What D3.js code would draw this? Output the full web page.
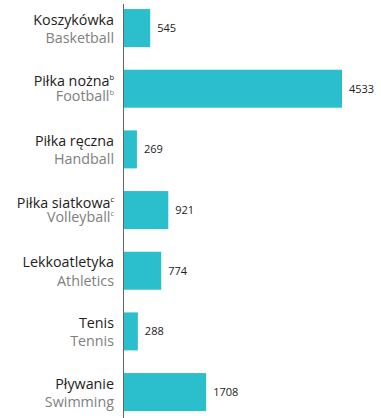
<!DOCTYPE html>
<html>
<head>
<meta charset="utf-8">
<script src="https://cdn.jsdelivr.net/npm/d3@7"></script>
<style>
  html, body { margin: 0; padding: 0; background: #fff; }
  svg { display: block; }
  text { font-family: "Open Sans", sans-serif; }
</style>
</head>
<body>
<svg id="chart" width="381" height="418"></svg>
<script>
// Sports, Polish name, English name, footnote mark and count
const namesPl = ["Koszykówka", "Piłka nożna", "Piłka ręczna", "Piłka siatkowa", "Lekkoatletyka", "Tenis", "Pływanie"];
const namesEn = ["Basketball", "Football", "Handball", "Volleyball", "Athletics", "Tennis", "Swimming"];
const notes   = ["", "b", "", "c", "", "", ""];
const values  = [545, 4533, 269, 921, 774, 288, 1708];

const rows = namesPl.map((pl, i) => ({ pl, en: namesEn[i], note: notes[i], value: values[i] }));

const svg = d3.select("#chart");
const axisX = 123.5;

const x = d3.scaleLinear()
  .domain([0, 4533])
  .range([axisX + 0.5, 342]);

const y = d3.scaleBand()
  .domain(namesPl)
  .range([-2.3, 422.4])
  .paddingInner(0.374)
  .paddingOuter(0.187);

const barColor = "#2bbfce";

// bars
svg.append("g")
  .selectAll("rect")
  .data(rows)
  .join("rect")
  .attr("x", x(0))
  .attr("y", d => y(d.pl))
  .attr("width", d => x(d.value) - x(0))
  .attr("height", y.bandwidth())
  .attr("fill", barColor);

// value labels
svg.append("g")
  .selectAll("text")
  .data(rows)
  .join("text")
  .attr("x", d => x(d.value) + 7)
  .attr("y", d => y(d.pl) + y.bandwidth() / 2 + 4)
  .attr("font-size", 11)
  .attr("fill", "#222")
  .text(d => d.value);

// category labels (Polish above, English below)
const labels = svg.append("g")
  .selectAll("g")
  .data(rows)
  .join("g")
  .attr("transform", d => `translate(114,${y(d.pl) + y.bandwidth() / 2})`);

const pl = labels.append("text")
  .attr("text-anchor", "end")
  .attr("y", d => d.note ? -2.5 : -3.5)
  .attr("font-size", 14.3)
  .attr("fill", "#222");
pl.append("tspan").text(d => d.pl);
pl.filter(d => d.note).append("tspan")
  .attr("font-size", 7.5)
  .attr("dy", -6)
  .text(d => d.note);

const en = labels.append("text")
  .attr("text-anchor", "end")
  .attr("y", d => d.note ? 12 : 15)
  .attr("font-size", 14.3)
  .attr("fill", "#808080");
en.append("tspan").text(d => d.en);
en.filter(d => d.note).append("tspan")
  .attr("font-size", 7.5)
  .attr("dy", -6)
  .text(d => d.note);

// vertical axis line
svg.append("line")
  .attr("x1", axisX).attr("x2", axisX)
  .attr("y1", 4).attr("y2", 418)
  .attr("stroke", "#666")
  .attr("stroke-width", 1);
</script>
</body>
</html>
